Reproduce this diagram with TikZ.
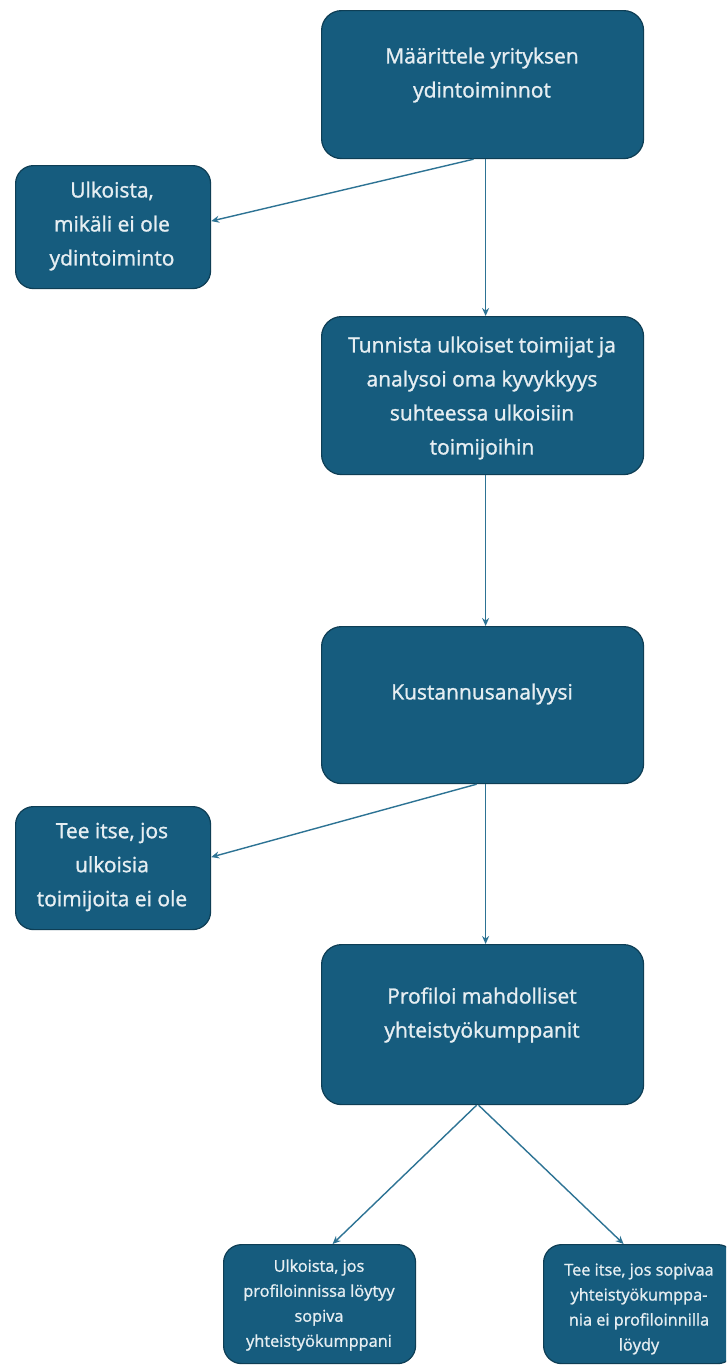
\documentclass[tikz,border=0pt]{standalone}
\usepackage{fontspec}
\setmainfont{Open Sans}[FakeBold=1.2]
\usetikzlibrary{arrows.meta,calc}
\definecolor{boxfill}{HTML}{165C7E}
\definecolor{boxline}{HTML}{0E3E55}
\definecolor{arrowc}{HTML}{2D7394}
\definecolor{txtc}{HTML}{E6EEF2}
\begin{document}
\begin{tikzpicture}[x=1pt,y=-1pt,
 box/.style={draw=boxline, line width=1.2pt, fill=boxfill, rounded corners=20pt, anchor=north west, inner sep=0pt},
 bigbox/.style={box, minimum width=322pt, minimum height=148pt},
 sidebox/.style={box, rounded corners=18pt, minimum width=195pt, minimum height=123pt},
 botbox/.style={box, rounded corners=18pt, minimum width=192pt, minimum height=119pt},
 txt/.style={text=txtc, align=center, font=\fontsize{21}{34}\selectfont, inner sep=0pt},
 smalltxt/.style={text=txtc, align=center, font=\fontsize{16.3}{25}\selectfont, inner sep=0pt},
 arr/.style={draw=arrowc, line width=1.4pt, -{Stealth[length=8pt,width=7pt]}}]
\useasboundingbox[fill=white] (0,0) rectangle (726,1365);
\clip (0,0) rectangle (726,1365);

\node[bigbox] (m1) at (321,10) {};
\node[txt] (t1) at (482,75) {Määrittele yrityksen\\ydintoiminnot};

\node[sidebox] (l1) at (15,165) {};
\node[txt] (tl1) at (112,226) {Ulkoista,\\mikäli ei ole\\ydintoiminto};

\node[bigbox, minimum height=158pt] (m2) at (321,316) {};
\node[txt] (t2) at (482,398) {Tunnista ulkoiset toimijat ja\\analysoi oma kyvykkyys\\suhteessa ulkoisiin\\toimijoihin};

\node[bigbox, minimum height=157pt] (m3) at (321,626) {};
\node[txt] (t3) at (482,694) {Kustannusanalyysi};

\node[sidebox] (l2) at (15,806) {};
\node[txt] (tl2) at (112,867) {Tee itse, jos\\ulkoisia\\toimijoita ei ole};

\node[bigbox, minimum height=160pt] (m4) at (321,944) {};
\node[txt] (t4) at (482,1015) {Profiloi mahdolliset\\yhteistyökumppanit};

\node[botbox] (b1) at (223,1244) {};
\node[smalltxt] (tb1) at (319,1305) {Ulkoista, jos\\profiloinnissa löytyy\\sopiva\\yhteistyökumppani};

\node[botbox] (b2) at (543,1244) {};
\node[smalltxt] (tb2) at (639,1309) {Tee itse, jos sopivaa\\yhteistyökumppa-\\nia ei profiloinnilla\\löydy};

\draw[arr] ([xshift=-9pt]m1.south) -- ([yshift=6pt]l1.east);
\draw[arr] ([xshift=3pt]m1.south) -- ([xshift=3pt]m2.north);
\draw[arr] ([xshift=3pt]m2.south) -- ([xshift=3pt]m3.north);
\draw[arr] ([xshift=-6pt]m3.south) -- ([yshift=11pt]l2.east);
\draw[arr] ([xshift=3pt]m3.south) -- ([xshift=3pt]m4.north);
\draw[arr] ([xshift=-6pt]m4.south) -- ([xshift=13pt]b1.north);
\draw[arr] ([xshift=-4pt]m4.south) -- ([xshift=-16pt]b2.north);
\end{tikzpicture}
\end{document}
